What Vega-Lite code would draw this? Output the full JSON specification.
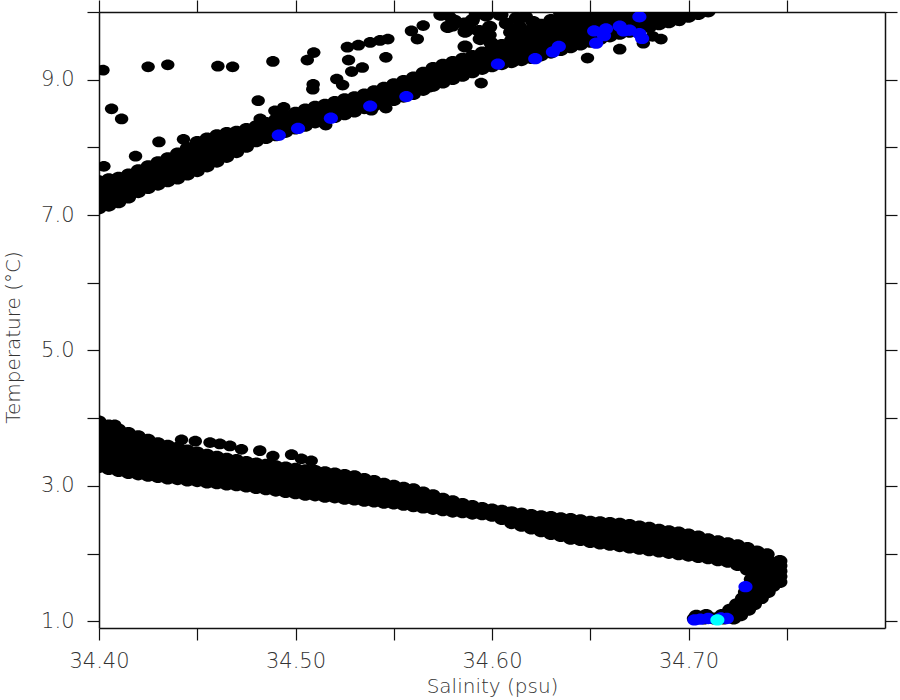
{
"$schema": "https://vega.github.io/schema/vega-lite/v6.json",
"width": 786, "height": 616,
"autosize": "none",
"padding": {"left": 99, "top": 12, "right": 15, "bottom": 72},
"background": "white",
"config": {
  "view": {"stroke": null},
  "axis": {"grid": false, "domainColor": "#111", "domainWidth": 1.5, "tickColor": "#111", "tickWidth": 1.2, "tickSize": 12,
    "labelFont": "DejaVu Sans", "labelFontSize": 21, "labelFontWeight": 200, "labelColor": "#333333",
    "titleFont": "DejaVu Sans", "titleFontSize": 20, "titleFontWeight": 200, "titleColor": "#333333", "zindex": 1}
},
"datasets": {
"band": [
{"s":34.400,"t":7.10},{"s":34.400,"t":7.20},{"s":34.400,"t":7.30},{"s":34.400,"t":7.40},{"s":34.400,"t":7.50},
{"s":34.405,"t":7.14},{"s":34.405,"t":7.24},{"s":34.405,"t":7.34},{"s":34.405,"t":7.43},{"s":34.405,"t":7.53},
{"s":34.410,"t":7.19},{"s":34.410,"t":7.28},{"s":34.410,"t":7.37},{"s":34.410,"t":7.46},{"s":34.410,"t":7.55},
{"s":34.415,"t":7.26},{"s":34.415,"t":7.35},{"s":34.415,"t":7.43},{"s":34.415,"t":7.52},{"s":34.415,"t":7.60},
{"s":34.420,"t":7.34},{"s":34.420,"t":7.42},{"s":34.420,"t":7.50},{"s":34.420,"t":7.58},{"s":34.420,"t":7.66},
{"s":34.425,"t":7.40},{"s":34.425,"t":7.48},{"s":34.425,"t":7.56},{"s":34.425,"t":7.64},{"s":34.425,"t":7.72},
{"s":34.430,"t":7.45},{"s":34.430,"t":7.53},{"s":34.430,"t":7.62},{"s":34.430,"t":7.70},{"s":34.430,"t":7.78},
{"s":34.435,"t":7.50},{"s":34.435,"t":7.59},{"s":34.435,"t":7.67},{"s":34.435,"t":7.76},{"s":34.435,"t":7.84},
{"s":34.440,"t":7.54},{"s":34.440,"t":7.63},{"s":34.440,"t":7.73},{"s":34.440,"t":7.82},{"s":34.440,"t":7.91},
{"s":34.445,"t":7.60},{"s":34.445,"t":7.70},{"s":34.445,"t":7.80},{"s":34.445,"t":7.89},{"s":34.445,"t":7.99},
{"s":34.450,"t":7.65},{"s":34.450,"t":7.74},{"s":34.450,"t":7.82},{"s":34.450,"t":7.91},{"s":34.450,"t":7.99},{"s":34.450,"t":8.08},
{"s":34.455,"t":7.72},{"s":34.455,"t":7.80},{"s":34.455,"t":7.88},{"s":34.455,"t":7.97},{"s":34.455,"t":8.05},{"s":34.455,"t":8.13},
{"s":34.460,"t":7.79},{"s":34.460,"t":7.89},{"s":34.460,"t":7.98},{"s":34.460,"t":8.08},{"s":34.460,"t":8.18},
{"s":34.465,"t":7.86},{"s":34.465,"t":7.95},{"s":34.465,"t":8.03},{"s":34.465,"t":8.12},{"s":34.465,"t":8.21},
{"s":34.470,"t":7.93},{"s":34.470,"t":8.03},{"s":34.470,"t":8.13},{"s":34.470,"t":8.23},
{"s":34.475,"t":8.01},{"s":34.475,"t":8.10},{"s":34.475,"t":8.18},{"s":34.475,"t":8.27},
{"s":34.480,"t":8.09},{"s":34.480,"t":8.16},{"s":34.480,"t":8.24},{"s":34.480,"t":8.31},
{"s":34.485,"t":8.14},{"s":34.485,"t":8.21},{"s":34.485,"t":8.29},{"s":34.485,"t":8.36},
{"s":34.490,"t":8.18},{"s":34.490,"t":8.26},{"s":34.490,"t":8.33},{"s":34.490,"t":8.41},
{"s":34.495,"t":8.23},{"s":34.495,"t":8.31},{"s":34.495,"t":8.38},{"s":34.495,"t":8.46},
{"s":34.500,"t":8.28},{"s":34.500,"t":8.36},{"s":34.500,"t":8.43},{"s":34.500,"t":8.51},
{"s":34.505,"t":8.32},{"s":34.505,"t":8.40},{"s":34.505,"t":8.48},{"s":34.505,"t":8.56},
{"s":34.510,"t":8.37},{"s":34.510,"t":8.45},{"s":34.510,"t":8.52},{"s":34.510,"t":8.60},
{"s":34.515,"t":8.41},{"s":34.515,"t":8.48},{"s":34.515,"t":8.56},{"s":34.515,"t":8.63},
{"s":34.520,"t":8.45},{"s":34.520,"t":8.52},{"s":34.520,"t":8.60},{"s":34.520,"t":8.67},
{"s":34.525,"t":8.49},{"s":34.525,"t":8.56},{"s":34.525,"t":8.64},{"s":34.525,"t":8.71},
{"s":34.530,"t":8.53},{"s":34.530,"t":8.60},{"s":34.530,"t":8.67},{"s":34.530,"t":8.74},
{"s":34.535,"t":8.58},{"s":34.535,"t":8.65},{"s":34.535,"t":8.71},{"s":34.535,"t":8.78},
{"s":34.540,"t":8.62},{"s":34.540,"t":8.69},{"s":34.540,"t":8.76},{"s":34.540,"t":8.83},
{"s":34.545,"t":8.66},{"s":34.545,"t":8.73},{"s":34.545,"t":8.81},{"s":34.545,"t":8.88},
{"s":34.550,"t":8.70},{"s":34.550,"t":8.78},{"s":34.550,"t":8.85},{"s":34.550,"t":8.93},
{"s":34.555,"t":8.75},{"s":34.555,"t":8.83},{"s":34.555,"t":8.90},{"s":34.555,"t":8.98},
{"s":34.560,"t":8.79},{"s":34.560,"t":8.87},{"s":34.560,"t":8.95},{"s":34.560,"t":9.03},
{"s":34.565,"t":8.85},{"s":34.565,"t":8.93},{"s":34.565,"t":9.02},{"s":34.565,"t":9.10},
{"s":34.570,"t":8.91},{"s":34.570,"t":9.00},{"s":34.570,"t":9.08},{"s":34.570,"t":9.17},
{"s":34.575,"t":8.96},{"s":34.575,"t":9.05},{"s":34.575,"t":9.13},{"s":34.575,"t":9.22},
{"s":34.580,"t":9.01},{"s":34.580,"t":9.09},{"s":34.580,"t":9.18},{"s":34.580,"t":9.26},
{"s":34.585,"t":9.06},{"s":34.585,"t":9.14},{"s":34.585,"t":9.23},{"s":34.585,"t":9.31},
{"s":34.590,"t":9.11},{"s":34.590,"t":9.19},{"s":34.590,"t":9.27},{"s":34.590,"t":9.35},
{"s":34.595,"t":9.16},{"s":34.595,"t":9.24},{"s":34.595,"t":9.32},{"s":34.595,"t":9.40},
{"s":34.600,"t":9.20},{"s":34.600,"t":9.28},{"s":34.600,"t":9.37},{"s":34.600,"t":9.45},
{"s":34.605,"t":9.23},{"s":34.605,"t":9.32},{"s":34.605,"t":9.42},{"s":34.605,"t":9.51},
{"s":34.610,"t":9.26},{"s":34.610,"t":9.34},{"s":34.610,"t":9.42},{"s":34.610,"t":9.50},{"s":34.610,"t":9.58},
{"s":34.615,"t":9.29},{"s":34.615,"t":9.38},{"s":34.615,"t":9.47},{"s":34.615,"t":9.56},{"s":34.615,"t":9.65},
{"s":34.620,"t":9.32},{"s":34.620,"t":9.40},{"s":34.620,"t":9.48},{"s":34.620,"t":9.57},{"s":34.620,"t":9.65},{"s":34.620,"t":9.73},
{"s":34.625,"t":9.36},{"s":34.625,"t":9.45},{"s":34.625,"t":9.54},{"s":34.625,"t":9.63},{"s":34.625,"t":9.72},{"s":34.625,"t":9.81},
{"s":34.630,"t":9.40},{"s":34.630,"t":9.50},{"s":34.630,"t":9.59},{"s":34.630,"t":9.69},{"s":34.630,"t":9.78},{"s":34.630,"t":9.88},
{"s":34.635,"t":9.44},{"s":34.635,"t":9.53},{"s":34.635,"t":9.62},{"s":34.635,"t":9.71},{"s":34.635,"t":9.80},{"s":34.635,"t":9.89},{"s":34.635,"t":9.98},
{"s":34.640,"t":9.48},{"s":34.640,"t":9.57},{"s":34.640,"t":9.66},{"s":34.640,"t":9.75},{"s":34.640,"t":9.84},{"s":34.640,"t":9.93},{"s":34.640,"t":10.02},
{"s":34.645,"t":9.52},{"s":34.645,"t":9.61},{"s":34.645,"t":9.70},{"s":34.645,"t":9.79},{"s":34.645,"t":9.88},{"s":34.645,"t":9.97},{"s":34.645,"t":10.05},
{"s":34.650,"t":9.56},{"s":34.650,"t":9.65},{"s":34.650,"t":9.74},{"s":34.650,"t":9.83},{"s":34.650,"t":9.92},{"s":34.650,"t":10.01},
{"s":34.655,"t":9.60},{"s":34.655,"t":9.69},{"s":34.655,"t":9.78},{"s":34.655,"t":9.87},{"s":34.655,"t":9.96},{"s":34.655,"t":10.05},
{"s":34.660,"t":9.64},{"s":34.660,"t":9.73},{"s":34.660,"t":9.82},{"s":34.660,"t":9.91},{"s":34.660,"t":10.00},
{"s":34.665,"t":9.68},{"s":34.665,"t":9.77},{"s":34.665,"t":9.86},{"s":34.665,"t":9.95},{"s":34.665,"t":10.04},
{"s":34.670,"t":9.71},{"s":34.670,"t":9.80},{"s":34.670,"t":9.89},{"s":34.670,"t":9.98},
{"s":34.675,"t":9.74},{"s":34.675,"t":9.83},{"s":34.675,"t":9.92},{"s":34.675,"t":10.01},
{"s":34.680,"t":9.78},{"s":34.680,"t":9.87},{"s":34.680,"t":9.96},{"s":34.680,"t":10.05},
{"s":34.685,"t":9.82},{"s":34.685,"t":9.91},{"s":34.685,"t":10.00},
{"s":34.690,"t":9.85},{"s":34.690,"t":9.94},{"s":34.690,"t":10.03},
{"s":34.695,"t":9.89},{"s":34.695,"t":9.98},
{"s":34.700,"t":9.93},{"s":34.700,"t":10.02},
{"s":34.705,"t":9.97},{"s":34.705,"t":10.05},
{"s":34.710,"t":10.01},
{"s":34.574,"t":9.96},{"s":34.5775,"t":9.78},{"s":34.581,"t":9.87},{"s":34.586,"t":9.83},{"s":34.590,"t":9.88},{"s":34.5863,"t":9.71},
{"s":34.5988,"t":9.78},{"s":34.5971,"t":9.66},{"s":34.5863,"t":9.49},{"s":34.5996,"t":9.54},{"s":34.594,"t":9.60},{"s":34.5935,"t":9.72},
{"s":34.604,"t":9.96},{"s":34.6073,"t":9.83},{"s":34.6124,"t":9.91},{"s":34.6095,"t":9.70},{"s":34.614,"t":9.78},{"s":34.617,"t":9.93},
{"s":34.621,"t":9.85},{"s":34.597,"t":9.95},{"s":34.592,"t":9.97},
{"s":34.400,"t":3.28},{"s":34.400,"t":3.38},{"s":34.400,"t":3.47},{"s":34.400,"t":3.57},{"s":34.400,"t":3.66},{"s":34.400,"t":3.76},{"s":34.400,"t":3.85},{"s":34.400,"t":3.95},
{"s":34.405,"t":3.25},{"s":34.405,"t":3.34},{"s":34.405,"t":3.43},{"s":34.405,"t":3.52},{"s":34.405,"t":3.62},{"s":34.405,"t":3.71},{"s":34.405,"t":3.80},{"s":34.405,"t":3.89},
{"s":34.410,"t":3.22},{"s":34.410,"t":3.31},{"s":34.410,"t":3.39},{"s":34.410,"t":3.48},{"s":34.410,"t":3.57},{"s":34.410,"t":3.66},{"s":34.410,"t":3.74},{"s":34.410,"t":3.83},
{"s":34.415,"t":3.19},{"s":34.415,"t":3.29},{"s":34.415,"t":3.39},{"s":34.415,"t":3.48},{"s":34.415,"t":3.58},{"s":34.415,"t":3.68},{"s":34.415,"t":3.78},
{"s":34.420,"t":3.17},{"s":34.420,"t":3.26},{"s":34.420,"t":3.36},{"s":34.420,"t":3.45},{"s":34.420,"t":3.54},{"s":34.420,"t":3.64},{"s":34.420,"t":3.73},
{"s":34.425,"t":3.15},{"s":34.425,"t":3.24},{"s":34.425,"t":3.33},{"s":34.425,"t":3.42},{"s":34.425,"t":3.50},{"s":34.425,"t":3.59},{"s":34.425,"t":3.68},
{"s":34.430,"t":3.13},{"s":34.430,"t":3.23},{"s":34.430,"t":3.33},{"s":34.430,"t":3.43},{"s":34.430,"t":3.53},{"s":34.430,"t":3.63},
{"s":34.435,"t":3.11},{"s":34.435,"t":3.21},{"s":34.435,"t":3.30},{"s":34.435,"t":3.40},{"s":34.435,"t":3.49},{"s":34.435,"t":3.59},
{"s":34.440,"t":3.10},{"s":34.440,"t":3.19},{"s":34.440,"t":3.28},{"s":34.440,"t":3.38},{"s":34.440,"t":3.47},{"s":34.440,"t":3.56},
{"s":34.445,"t":3.08},{"s":34.445,"t":3.17},{"s":34.445,"t":3.26},{"s":34.445,"t":3.34},{"s":34.445,"t":3.43},{"s":34.445,"t":3.52},
{"s":34.450,"t":3.07},{"s":34.450,"t":3.15},{"s":34.450,"t":3.24},{"s":34.450,"t":3.32},{"s":34.450,"t":3.41},{"s":34.450,"t":3.49},
{"s":34.455,"t":3.05},{"s":34.455,"t":3.13},{"s":34.455,"t":3.21},{"s":34.455,"t":3.30},{"s":34.455,"t":3.38},{"s":34.455,"t":3.46},
{"s":34.460,"t":3.04},{"s":34.460,"t":3.14},{"s":34.460,"t":3.24},{"s":34.460,"t":3.33},{"s":34.460,"t":3.43},
{"s":34.465,"t":3.02},{"s":34.465,"t":3.12},{"s":34.465,"t":3.21},{"s":34.465,"t":3.31},{"s":34.465,"t":3.40},
{"s":34.470,"t":3.01},{"s":34.470,"t":3.10},{"s":34.470,"t":3.20},{"s":34.470,"t":3.29},{"s":34.470,"t":3.38},
{"s":34.475,"t":2.99},{"s":34.475,"t":3.08},{"s":34.475,"t":3.17},{"s":34.475,"t":3.26},{"s":34.475,"t":3.35},
{"s":34.480,"t":2.97},{"s":34.480,"t":3.06},{"s":34.480,"t":3.15},{"s":34.480,"t":3.24},{"s":34.480,"t":3.33},
{"s":34.485,"t":2.95},{"s":34.485,"t":3.04},{"s":34.485,"t":3.13},{"s":34.485,"t":3.22},{"s":34.485,"t":3.31},
{"s":34.490,"t":2.93},{"s":34.490,"t":3.02},{"s":34.490,"t":3.11},{"s":34.490,"t":3.20},{"s":34.490,"t":3.29},
{"s":34.495,"t":2.91},{"s":34.495,"t":3.00},{"s":34.495,"t":3.09},{"s":34.495,"t":3.18},{"s":34.495,"t":3.27},
{"s":34.500,"t":2.89},{"s":34.500,"t":2.98},{"s":34.500,"t":3.07},{"s":34.500,"t":3.16},{"s":34.500,"t":3.25},
{"s":34.505,"t":2.87},{"s":34.505,"t":2.96},{"s":34.505,"t":3.05},{"s":34.505,"t":3.14},{"s":34.505,"t":3.23},
{"s":34.510,"t":2.86},{"s":34.510,"t":2.95},{"s":34.510,"t":3.04},{"s":34.510,"t":3.13},{"s":34.510,"t":3.22},
{"s":34.515,"t":2.84},{"s":34.515,"t":2.93},{"s":34.515,"t":3.02},{"s":34.515,"t":3.11},{"s":34.515,"t":3.20},
{"s":34.520,"t":2.83},{"s":34.520,"t":2.92},{"s":34.520,"t":3.00},{"s":34.520,"t":3.09},{"s":34.520,"t":3.18},
{"s":34.525,"t":2.81},{"s":34.525,"t":2.90},{"s":34.525,"t":2.99},{"s":34.525,"t":3.07},{"s":34.525,"t":3.16},
{"s":34.530,"t":2.80},{"s":34.530,"t":2.89},{"s":34.530,"t":2.97},{"s":34.530,"t":3.06},{"s":34.530,"t":3.14},
{"s":34.535,"t":2.78},{"s":34.535,"t":2.86},{"s":34.535,"t":2.94},{"s":34.535,"t":3.02},{"s":34.535,"t":3.10},
{"s":34.540,"t":2.77},{"s":34.540,"t":2.87},{"s":34.540,"t":2.97},{"s":34.540,"t":3.07},
{"s":34.545,"t":2.75},{"s":34.545,"t":2.84},{"s":34.545,"t":2.94},{"s":34.545,"t":3.03},
{"s":34.550,"t":2.74},{"s":34.550,"t":2.83},{"s":34.550,"t":2.91},{"s":34.550,"t":3.00},
{"s":34.555,"t":2.72},{"s":34.555,"t":2.80},{"s":34.555,"t":2.89},{"s":34.555,"t":2.97},
{"s":34.560,"t":2.70},{"s":34.560,"t":2.78},{"s":34.560,"t":2.87},{"s":34.560,"t":2.95},
{"s":34.565,"t":2.68},{"s":34.565,"t":2.75},{"s":34.565,"t":2.83},{"s":34.565,"t":2.90},
{"s":34.570,"t":2.66},{"s":34.570,"t":2.76},{"s":34.570,"t":2.86},
{"s":34.575,"t":2.64},{"s":34.575,"t":2.73},{"s":34.575,"t":2.81},
{"s":34.580,"t":2.62},{"s":34.580,"t":2.70},{"s":34.580,"t":2.77},
{"s":34.585,"t":2.61},{"s":34.585,"t":2.67},{"s":34.585,"t":2.73},
{"s":34.590,"t":2.59},{"s":34.590,"t":2.70},
{"s":34.595,"t":2.58},{"s":34.595,"t":2.67},
{"s":34.600,"t":2.56},{"s":34.600,"t":2.65},
{"s":34.605,"t":2.51},{"s":34.605,"t":2.57},{"s":34.605,"t":2.63},
{"s":34.610,"t":2.45},{"s":34.610,"t":2.53},{"s":34.610,"t":2.61},
{"s":34.615,"t":2.41},{"s":34.615,"t":2.50},{"s":34.615,"t":2.59},
{"s":34.620,"t":2.37},{"s":34.620,"t":2.47},{"s":34.620,"t":2.57},
{"s":34.625,"t":2.33},{"s":34.625,"t":2.40},{"s":34.625,"t":2.48},{"s":34.625,"t":2.55},
{"s":34.630,"t":2.29},{"s":34.630,"t":2.37},{"s":34.630,"t":2.46},{"s":34.630,"t":2.54},
{"s":34.635,"t":2.26},{"s":34.635,"t":2.35},{"s":34.635,"t":2.43},{"s":34.635,"t":2.52},
{"s":34.640,"t":2.22},{"s":34.640,"t":2.32},{"s":34.640,"t":2.41},{"s":34.640,"t":2.51},
{"s":34.645,"t":2.20},{"s":34.645,"t":2.30},{"s":34.645,"t":2.39},{"s":34.645,"t":2.49},
{"s":34.650,"t":2.17},{"s":34.650,"t":2.27},{"s":34.650,"t":2.37},{"s":34.650,"t":2.47},
{"s":34.655,"t":2.15},{"s":34.655,"t":2.23},{"s":34.655,"t":2.31},{"s":34.655,"t":2.38},{"s":34.655,"t":2.46},
{"s":34.660,"t":2.13},{"s":34.660,"t":2.21},{"s":34.660,"t":2.29},{"s":34.660,"t":2.37},{"s":34.660,"t":2.45},
{"s":34.665,"t":2.11},{"s":34.665,"t":2.19},{"s":34.665,"t":2.28},{"s":34.665,"t":2.36},{"s":34.665,"t":2.44},
{"s":34.670,"t":2.09},{"s":34.670,"t":2.17},{"s":34.670,"t":2.26},{"s":34.670,"t":2.34},{"s":34.670,"t":2.42},
{"s":34.675,"t":2.07},{"s":34.675,"t":2.15},{"s":34.675,"t":2.24},{"s":34.675,"t":2.32},{"s":34.675,"t":2.40},
{"s":34.680,"t":2.05},{"s":34.680,"t":2.13},{"s":34.680,"t":2.22},{"s":34.680,"t":2.30},{"s":34.680,"t":2.38},
{"s":34.685,"t":2.03},{"s":34.685,"t":2.11},{"s":34.685,"t":2.19},{"s":34.685,"t":2.27},{"s":34.685,"t":2.35},
{"s":34.690,"t":2.01},{"s":34.690,"t":2.09},{"s":34.690,"t":2.17},{"s":34.690,"t":2.25},{"s":34.690,"t":2.33},
{"s":34.695,"t":1.99},{"s":34.695,"t":2.07},{"s":34.695,"t":2.15},{"s":34.695,"t":2.23},{"s":34.695,"t":2.31},
{"s":34.700,"t":1.97},{"s":34.700,"t":2.05},{"s":34.700,"t":2.13},{"s":34.700,"t":2.20},{"s":34.700,"t":2.28},
{"s":34.705,"t":1.95},{"s":34.705,"t":2.05},{"s":34.705,"t":2.15},{"s":34.705,"t":2.25},
{"s":34.710,"t":1.93},{"s":34.710,"t":2.02},{"s":34.710,"t":2.12},{"s":34.710,"t":2.21},
{"s":34.715,"t":1.90},{"s":34.715,"t":1.99},{"s":34.715,"t":2.09},{"s":34.715,"t":2.18},
{"s":34.720,"t":1.88},{"s":34.720,"t":1.97},{"s":34.720,"t":2.06},{"s":34.720,"t":2.15},
{"s":34.725,"t":1.83},{"s":34.725,"t":1.93},{"s":34.725,"t":2.02},{"s":34.725,"t":2.12},
{"s":34.730,"t":1.76},{"s":34.730,"t":1.84},{"s":34.730,"t":1.92},{"s":34.730,"t":2.00},{"s":34.730,"t":2.08},
{"s":34.735,"t":1.72},{"s":34.735,"t":1.80},{"s":34.735,"t":1.88},{"s":34.735,"t":1.95},{"s":34.735,"t":2.03},
{"s":34.740,"t":1.68},{"s":34.740,"t":1.76},{"s":34.740,"t":1.84},{"s":34.740,"t":1.91},{"s":34.740,"t":1.99},
{"s":34.7465,"t":1.58},{"s":34.7465,"t":1.66},{"s":34.7465,"t":1.74},{"s":34.7465,"t":1.82},{"s":34.7465,"t":1.89},
{"s":34.732,"t":1.62},{"s":34.737,"t":1.62},{"s":34.742,"t":1.62},
{"s":34.731,"t":1.52},{"s":34.736,"t":1.52},{"s":34.740,"t":1.52},{"s":34.743,"t":1.52},
{"s":34.729,"t":1.43},{"s":34.734,"t":1.43},{"s":34.7405,"t":1.43},
{"s":34.7275,"t":1.34},{"s":34.732,"t":1.34},{"s":34.737,"t":1.34},
{"s":34.7245,"t":1.25},{"s":34.729,"t":1.25},{"s":34.7335,"t":1.25},
{"s":34.721,"t":1.17},{"s":34.726,"t":1.17},{"s":34.7305,"t":1.17},
{"s":34.717,"t":1.09},{"s":34.722,"t":1.09},{"s":34.7265,"t":1.09},
{"s":34.703,"t":1.04},{"s":34.708,"t":1.04},{"s":34.713,"t":1.04},{"s":34.718,"t":1.04},{"s":34.723,"t":1.04},
{"s":34.704,"t":1.08},{"s":34.709,"t":1.09}
],
"scatter": [
{"s":34.402,"t":9.14},{"s":34.425,"t":9.19},{"s":34.435,"t":9.22},{"s":34.4605,"t":9.20},{"s":34.468,"t":9.19},{"s":34.4885,"t":9.27},
{"s":34.506,"t":9.29},{"s":34.5093,"t":9.40},{"s":34.5264,"t":9.48},{"s":34.532,"t":9.51},{"s":34.538,"t":9.55},{"s":34.543,"t":9.58},
{"s":34.547,"t":9.60},{"s":34.559,"t":9.72},{"s":34.565,"t":9.80},{"s":34.562,"t":9.60},{"s":34.527,"t":9.29},{"s":34.5286,"t":9.12},
{"s":34.534,"t":9.18},{"s":34.546,"t":9.33},{"s":34.521,"t":9.01},{"s":34.524,"t":8.92},{"s":34.5088,"t":8.86},{"s":34.509,"t":8.93},
{"s":34.481,"t":8.69},{"s":34.494,"t":8.59},{"s":34.4895,"t":8.54},{"s":34.482,"t":8.42},{"s":34.4064,"t":8.57},{"s":34.4115,"t":8.42},
{"s":34.4305,"t":8.08},{"s":34.443,"t":8.12},{"s":34.4186,"t":7.87},{"s":34.4025,"t":7.72},{"s":34.5785,"t":9.93},{"s":34.580,"t":9.79},
{"s":34.590,"t":9.86},{"s":34.5945,"t":8.95},{"s":34.599,"t":9.66},{"s":34.5885,"t":9.74},{"s":34.575,"t":9.99},{"s":34.605,"t":9.96},
{"s":34.6486,"t":9.32},{"s":34.665,"t":9.45},{"s":34.677,"t":9.54},{"s":34.6817,"t":9.64},{"s":34.686,"t":9.60},{"s":34.6954,"t":9.87},
{"s":34.5386,"t":8.55},{"s":34.546,"t":8.58},{"s":34.5154,"t":8.33},{"s":34.568,"t":8.89},
{"s":34.442,"t":3.68},{"s":34.449,"t":3.66},{"s":34.4565,"t":3.64},{"s":34.4615,"t":3.62},{"s":34.4666,"t":3.59},{"s":34.4725,"t":3.54},
{"s":34.4818,"t":3.52},{"s":34.4885,"t":3.44},{"s":34.498,"t":3.46},{"s":34.503,"t":3.40},{"s":34.508,"t":3.37},{"s":34.408,"t":3.90}
],
"blue": [
{"s":34.4915,"t":8.18},{"s":34.5013,"t":8.28},{"s":34.518,"t":8.43},{"s":34.538,"t":8.61},{"s":34.5564,"t":8.75},
{"s":34.603,"t":9.23},{"s":34.622,"t":9.31},{"s":34.631,"t":9.41},{"s":34.634,"t":9.49},{"s":34.652,"t":9.72},
{"s":34.653,"t":9.54},{"s":34.657,"t":9.65},{"s":34.658,"t":9.75},{"s":34.665,"t":9.79},{"s":34.667,"t":9.72},
{"s":34.670,"t":9.73},{"s":34.675,"t":9.93},{"s":34.675,"t":9.68},{"s":34.6764,"t":9.61},
{"s":34.729,"t":1.51},
{"s":34.703,"t":1.02},{"s":34.706,"t":1.03},{"s":34.710,"t":1.04},{"s":34.7165,"t":1.05},{"s":34.7195,"t":1.04}
],
"cyan": [
{"s":34.7147,"t":1.02}
]
},
"layer": [
{
 "data": {"name": "band"},
 "mark": {"type": "point", "shape": "M-1,0C-1,-0.442,-0.552,-0.8,0,-0.8C0.552,-0.8,1,-0.442,1,0C1,0.442,0.552,0.8,0,0.8C-0.552,0.8,-1,0.442,-1,0Z", "filled": true, "size": 230, "color": "#000000", "opacity": 1, "strokeWidth": 0, "clip": true},
 "encoding": {
  "x": {"field": "s", "type": "quantitative", "scale": {"domain": [34.4, 34.8], "nice": false, "zero": false},
        "axis": {"orient": "bottom", "values": [34.4, 34.45, 34.5, 34.55, 34.6, 34.65, 34.7, 34.75],
                 "labelExpr": "round(datum.value*100) % 10 == 0 ? format(datum.value, '.2f') : ''",
                 "labelPadding": 10, "labelFlush": false, "labelOverlap": false,
                 "title": "Salinity (psu)", "titleY": 48, "titleBaseline": "top"}},
  "y": {"field": "t", "type": "quantitative", "scale": {"domain": [0.9, 10.0], "nice": false, "zero": false},
        "axis": {"orient": "left", "values": [1, 2, 3, 4, 5, 6, 7, 8, 9, 10],
                 "labelExpr": "datum.value % 2 == 1 ? format(datum.value, '.1f') : ''",
                 "labelPadding": 13, "labelFlush": false, "labelOverlap": false,
                 "title": "Temperature (°C)", "titleX": -76, "titleY": 325, "titleBaseline": "bottom", "titleAngle": -90}}
 }
},
{
 "data": {"name": "scatter"},
 "mark": {"type": "point", "shape": "M-1,0C-1,-0.442,-0.552,-0.8,0,-0.8C0.552,-0.8,1,-0.442,1,0C1,0.442,0.552,0.8,0,0.8C-0.552,0.8,-1,0.442,-1,0Z", "filled": true, "size": 180, "color": "#000000", "opacity": 1, "strokeWidth": 0, "clip": true},
 "encoding": {
  "x": {"field": "s", "type": "quantitative", "scale": {"domain": [34.4, 34.8], "nice": false, "zero": false}, "axis": null},
  "y": {"field": "t", "type": "quantitative", "scale": {"domain": [0.9, 10.0], "nice": false, "zero": false}, "axis": null}
 }
},
{
 "data": {"name": "blue"},
 "mark": {"type": "point", "shape": "M-1,0C-1,-0.442,-0.552,-0.8,0,-0.8C0.552,-0.8,1,-0.442,1,0C1,0.442,0.552,0.8,0,0.8C-0.552,0.8,-1,0.442,-1,0Z", "filled": true, "size": 200, "color": "#0000ff", "opacity": 1, "strokeWidth": 0, "clip": true},
 "encoding": {
  "x": {"field": "s", "type": "quantitative", "scale": {"domain": [34.4, 34.8], "nice": false, "zero": false},
        "axis": {"orient": "top", "values": [34.4, 34.45, 34.5, 34.55, 34.6, 34.65, 34.7, 34.75], "labels": false, "title": null}},
  "y": {"field": "t", "type": "quantitative", "scale": {"domain": [0.9, 10.0], "nice": false, "zero": false},
        "axis": {"orient": "right", "values": [1, 2, 3, 4, 5, 6, 7, 8, 9, 10], "labels": false, "title": null}}
 }
},
{
 "data": {"name": "cyan"},
 "mark": {"type": "point", "shape": "M-1,0C-1,-0.442,-0.552,-0.8,0,-0.8C0.552,-0.8,1,-0.442,1,0C1,0.442,0.552,0.8,0,0.8C-0.552,0.8,-1,0.442,-1,0Z", "filled": true, "size": 200, "color": "#00ffff", "opacity": 1, "strokeWidth": 0, "clip": true},
 "encoding": {
  "x": {"field": "s", "type": "quantitative", "scale": {"domain": [34.4, 34.8], "nice": false, "zero": false}, "axis": null},
  "y": {"field": "t", "type": "quantitative", "scale": {"domain": [0.9, 10.0], "nice": false, "zero": false}, "axis": null}
 }
}
],
"resolve": {"axis": {"x": "independent", "y": "independent"}}
}
